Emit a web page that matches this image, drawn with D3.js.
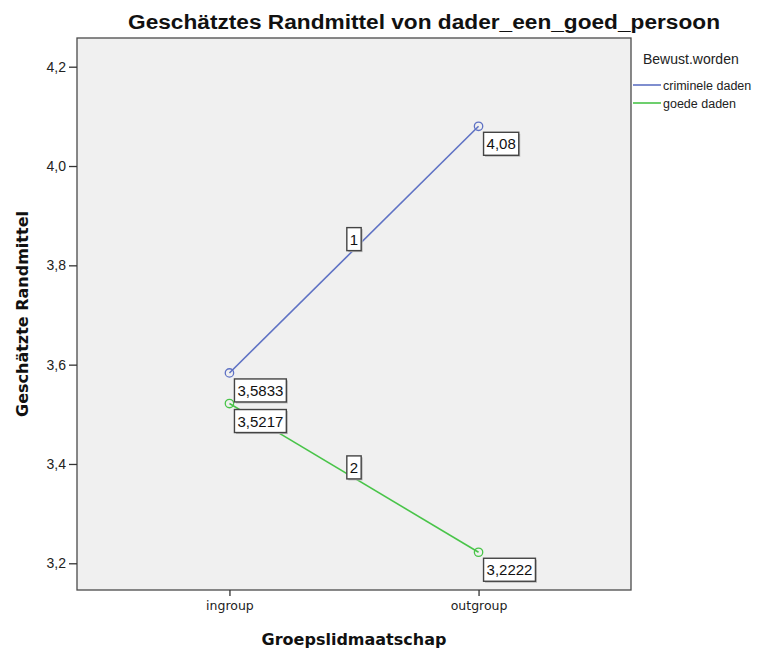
<!DOCTYPE html>
<html><head><meta charset="utf-8">
<script src="https://cdn.jsdelivr.net/npm/d3@7"></script>
<style>body{margin:0;background:#fff}svg{display:block}</style>
</head><body><svg id="c" width="767" height="651"></svg>
<script>
const categories = ["ingroup", "outgroup"];
const seriesNames = ["criminele daden", "goede daden"];
const seriesValues = [[3.5833, 4.08], [3.5217, 3.2222]];
const valueLabels = [["3,5833", "4,08"], ["3,5217", "3,2222"]];
const lineLabels = ["1", "2"];
const yTicks = [3.2, 3.4, 3.6, 3.8, 4.0, 4.2];
const colors = ["#5f72c4", "#49c449"];

const svg = d3.select("#c");
const L = 77, R = 631, T = 38, B = 590;
const x = d3.scalePoint().domain(categories).range([L, R]).padding(0.612);
const y = d3.scaleLinear().domain([3.1462, 4.2578]).range([B, T]);

svg.append("rect").attr("x", L).attr("y", T).attr("width", R - L).attr("height", B - T)
  .attr("fill", "#f0f0f0").attr("stroke", "#4a4a4a").attr("stroke-width", 1.3);

const yAx = svg.append("g").attr("transform", `translate(${L},0)`)
  .call(d3.axisLeft(y).tickValues(yTicks).tickSize(8).tickPadding(3)
    .tickFormat(d => d3.format(".1f")(d).replace(".", ",")));
yAx.select(".domain").remove();
yAx.selectAll("line").attr("stroke", "#333").attr("stroke-width", 1.3);
yAx.selectAll("text").attr("font-family", "Liberation Sans, Arial, sans-serif").attr("font-size", 14).attr("fill", "#222");

const xAx = svg.append("g").attr("transform", `translate(0,${B})`)
  .call(d3.axisBottom(x).tickSize(6).tickPadding(5));
xAx.select(".domain").remove();
xAx.selectAll("line").attr("stroke", "#333").attr("stroke-width", 1.3);
xAx.selectAll("text").attr("font-family", "DejaVu Sans, Verdana, sans-serif").attr("font-size", 12.5).attr("fill", "#222");

svg.append("text").attr("x", 424).attr("y", 29).attr("text-anchor", "middle")
  .attr("font-family", "Liberation Sans, Arial, sans-serif").attr("font-weight", "bold").attr("font-size", 20)
  .attr("textLength", 592).attr("lengthAdjust", "spacingAndGlyphs").attr("fill", "#111")
  .text("Geschätztes Randmittel von dader_een_goed_persoon");

svg.append("text").attr("transform", `translate(28,${(T + B) / 2}) rotate(-90)`).attr("text-anchor", "middle")
  .attr("font-family", "DejaVu Sans, Verdana, sans-serif").attr("font-weight", "bold").attr("font-size", 16).attr("fill", "#111")
  .text("Geschätzte Randmittel");

svg.append("text").attr("x", (L + R) / 2).attr("y", 645).attr("text-anchor", "middle")
  .attr("font-family", "DejaVu Sans, Verdana, sans-serif").attr("font-weight", "bold").attr("font-size", 16).attr("fill", "#111")
  .text("Groepslidmaatschap");

const line = d3.line().x((d, i) => x(categories[i])).y(d => y(d));

function box(g, cx, cy, txt, anchor) {
  const t = g.append("text").attr("font-family", "Liberation Sans, Arial, sans-serif").attr("font-size", 15).attr("fill", "#111").text(txt);
  const w = t.node().getComputedTextLength();
  const bw = w + 6, bh = 23;
  let bx, by;
  if (anchor === "below") { bx = cx + 5; by = cy + 6; }
  else { bx = cx - bw / 2; by = cy - bh; }
  g.insert("rect", "text").attr("x", bx + 1.5).attr("y", by + 1.5).attr("width", bw).attr("height", bh).attr("fill", "#bbb");
  g.insert("rect", "text").attr("x", bx).attr("y", by).attr("width", bw).attr("height", bh)
    .attr("fill", "#fff").attr("stroke", "#444").attr("stroke-width", 1.4);
  t.attr("x", bx + 3).attr("y", by + bh / 2 + 5.5);
}

seriesValues.forEach((vals, s) => {
  svg.append("path").datum(vals).attr("d", line).attr("fill", "none").attr("stroke", colors[s]).attr("stroke-width", 1.6);
  svg.selectAll(null).data(vals).enter().append("circle")
    .attr("cx", (d, i) => x(categories[i])).attr("cy", d => y(d)).attr("r", 4.2)
    .attr("fill", "none").attr("stroke", colors[s]).attr("stroke-width", 1.3);
});
seriesValues.forEach((vals, s) => {
  const g = svg.append("g");
  const mx = (x(categories[0]) + x(categories[1])) / 2, my = (y(vals[0]) + y(vals[1])) / 2;
  box(g, mx, my + 1, lineLabels[s], "above");
  vals.forEach((v, i) => box(svg.append("g"), x(categories[i]), y(v), valueLabels[s][i], "below"));
});

svg.append("text").attr("x", 643).attr("y", 64).attr("font-family", "Liberation Sans, Arial, sans-serif")
  .attr("font-size", 14).attr("fill", "#222").text("Bewust.worden");
seriesNames.forEach((n, s) => {
  const ly = 85 + s * 18;
  svg.append("line").attr("x1", 633).attr("x2", 661).attr("y1", ly).attr("y2", ly).attr("stroke", colors[s]).attr("stroke-width", 1.6);
  svg.append("text").attr("x", 663).attr("y", ly + 4.5).attr("font-family", "Liberation Sans, Arial, sans-serif")
    .attr("font-size", 12.5).attr("fill", "#222").text(n);
});
</script></body></html>
